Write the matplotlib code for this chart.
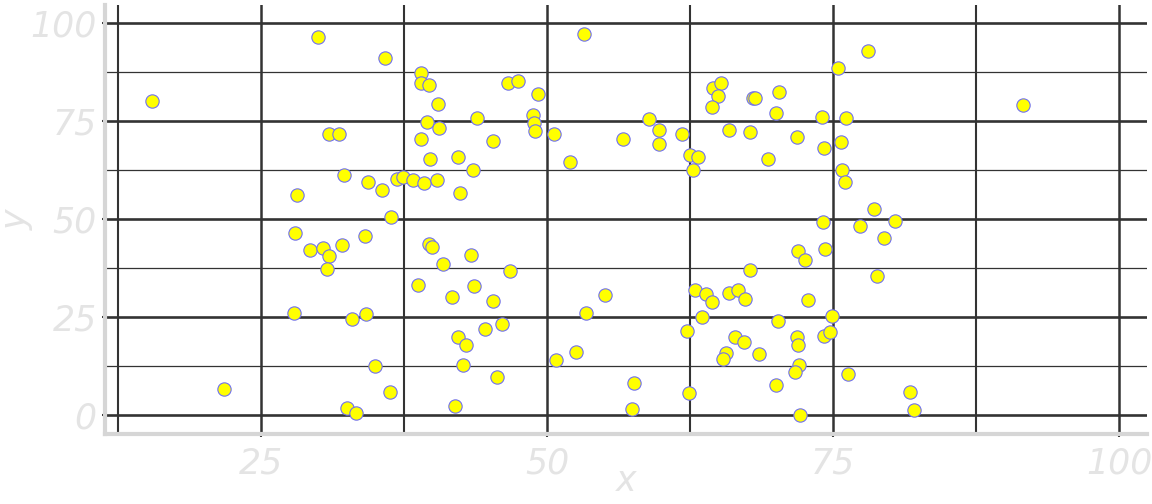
import matplotlib
matplotlib.use("Agg")
import matplotlib.pyplot as plt
from matplotlib.ticker import MultipleLocator

# points
x = [15.5, 21.8, 30.0, 35.9, 39.0, 39.0, 39.7, 40.5, 39.5, 40.6,
     39.0, 39.8, 42.2, 31.0, 31.8, 32.3, 34.4, 35.6, 28.2, 36.9,
     37.4, 38.3, 39.3, 40.4, 42.4, 36.4, 28.0, 29.3, 30.4, 31.0,
     30.8, 32.1, 34.1, 39.7, 40.0, 40.9, 38.7, 41.7, 27.9, 33.0,
     34.2, 42.2, 42.7, 35.0, 36.3, 32.5, 33.3, 42.0, 53.2, 46.6,
     47.5, 49.2, 43.9, 48.8, 48.9, 49.0, 50.6, 45.3, 43.5, 52.0,
     56.6, 58.9, 59.8, 59.8, 61.8, 62.5, 63.2, 62.8, 64.5, 65.2,
     64.9, 64.4, 65.9, 67.7, 68.0, 68.2, 70.3, 70.0, 69.3, 71.8,
     43.4, 46.8, 43.6, 45.3, 42.9, 44.6, 46.1, 45.6, 53.4, 55.1,
     50.8, 52.5, 57.6, 57.4, 62.4, 62.2, 62.9, 63.9, 64.4, 63.5,
     65.9, 66.7, 67.3, 67.7, 66.4, 67.2, 65.6, 65.4, 68.5, 70.2,
     71.9, 72.5, 71.8, 71.9, 72.0, 71.7, 70.0, 72.1, 72.8, 78.0,
     75.4, 74.0, 76.1, 75.7, 74.2, 75.8, 76.0, 78.6, 91.6, 74.1,
     77.3, 80.4, 79.4, 74.3, 78.8, 74.9, 74.2, 74.7, 76.3, 81.7,
     82.1]
y = [80.1, 6.6, 96.6, 91.1, 87.4, 84.7, 84.2, 79.4, 74.8, 73.4,
     70.6, 65.3, 66.0, 71.7, 71.7, 61.4, 59.5, 57.4, 56.2, 60.3,
     60.8, 60.0, 59.3, 60.0, 56.8, 50.5, 46.6, 42.1, 42.7, 40.6,
     37.3, 43.5, 45.7, 43.8, 42.9, 38.5, 33.3, 30.2, 26.0, 24.4,
     25.7, 19.9, 12.9, 12.6, 6.0, 1.8, 0.5, 2.4, 97.4, 84.9,
     85.3, 81.9, 75.9, 76.6, 74.5, 72.6, 71.7, 70.0, 62.5, 64.5,
     70.5, 75.6, 72.9, 69.1, 71.7, 66.5, 65.9, 62.5, 83.6, 84.7,
     81.5, 78.6, 72.8, 72.3, 80.9, 80.9, 82.5, 77.2, 65.5, 71.1,
     40.8, 36.8, 32.9, 29.2, 17.9, 22.0, 23.2, 9.8, 26.1, 30.7,
     14.0, 16.1, 8.2, 1.6, 5.6, 21.4, 31.9, 30.9, 28.8, 25.1,
     31.1, 32.0, 29.7, 37.1, 19.8, 18.6, 15.8, 14.3, 15.5, 24.1,
     41.9, 39.6, 20.0, 17.8, 12.9, 10.9, 7.6, 0.0, 29.4, 93.1,
     88.6, 76.2, 75.9, 69.8, 68.1, 62.5, 59.6, 52.6, 79.3, 49.3,
     48.4, 49.5, 45.1, 42.5, 35.5, 25.4, 20.2, 21.1, 10.4, 6.0,
     1.2]

grid_col = "#333333"
axis_col = "#d6d6d6"
text_col = "#e4e4e4"

fig = plt.figure(figsize=(11.52, 5.04), dpi=100)
ax = fig.add_axes([0.0911, 0.1389, 0.9045, 0.851])

ax.scatter(x, y, s=92, c="#ffff00", edgecolors="#7070f0", linewidths=0.8, zorder=3)

ax.set_xlim(11.4, 102.4)
ax.set_ylim(-4.85, 104.7)
ax.xaxis.set_major_locator(MultipleLocator(25))
ax.xaxis.set_minor_locator(MultipleLocator(12.5))
ax.yaxis.set_major_locator(MultipleLocator(25))
ax.yaxis.set_minor_locator(MultipleLocator(12.5))

ax.set_axisbelow(True)
ax.grid(axis="y", which="major", color=grid_col, linewidth=1.9)
ax.grid(axis="y", which="minor", color=grid_col, linewidth=0.9)
ax.grid(axis="x", which="major", color=grid_col, linewidth=1.8)
ax.grid(axis="x", which="minor", color=grid_col, linewidth=1.5)

for side in ["top", "right"]:
    ax.spines[side].set_visible(False)
for side in ["left", "bottom"]:
    ax.spines[side].set_color(axis_col)
    ax.spines[side].set_linewidth(3.0)

fnt = dict(family="DejaVu Sans", style="italic", color=text_col)
ax.tick_params(which="major", length=2, width=1.5, color=grid_col,
               labelsize=25, labelcolor=text_col)
ax.tick_params(which="minor", length=0)
ax.tick_params(axis="x", pad=7)
ax.tick_params(axis="y", pad=4)
for lab in ax.get_xticklabels() + ax.get_yticklabels():
    lab.set_fontfamily("DejaVu Sans")
    lab.set_fontstyle("italic")

ax.set_xlabel("x", fontsize=25, **fnt)
ax.set_ylabel("y", fontsize=25, **fnt)
ax.xaxis.set_label_coords(0.5, -0.11)
ax.yaxis.set_label_coords(-0.085, 0.5)
ax.xaxis.label.set_va("center")
ax.yaxis.label.set_va("center")

fig.savefig("out.png", dpi=100)
